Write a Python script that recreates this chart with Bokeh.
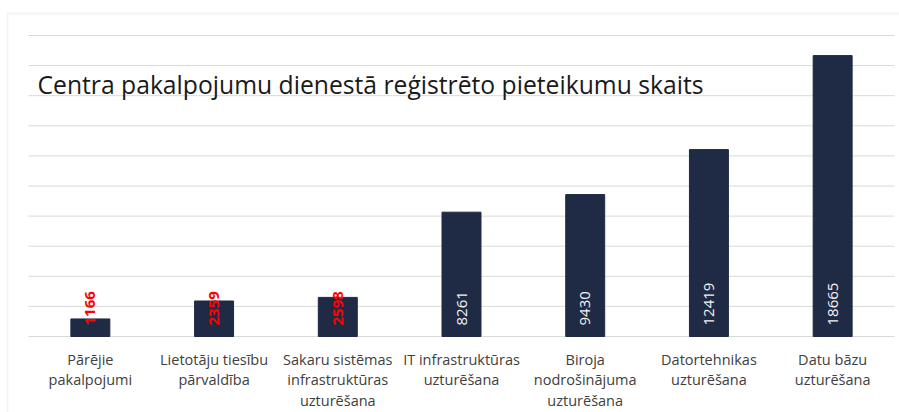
import math
from bokeh.plotting import figure
from bokeh.models import Range1d, Label, ColumnDataSource, BoxAnnotation
from bokeh.core.properties import value
from bokeh.embed import file_html
from bokeh.resources import INLINE

categories = [
    "Pārējie\npakalpojumi",
    "Lietotāju tiesību\npārvaldība",
    "Sakaru sistēmas\ninfrastruktūras\nuzturēšana",
    "IT infrastruktūras\nuzturēšana",
    "Biroja\nnodrošinājuma\nuzturēšana",
    "Datortehnikas\nuzturēšana",
    "Datu bāzu\nuzturēšana",
]
counts = [1166, 2359, 2598, 8261, 9430, 12419, 18665]
grid_ticks = list(range(0, 20001, 2000))
title_text = "Centra pakalpojumu dienestā reģistrēto pieteikumu skaits"

FONT = "Open Sans"
BAR_COLOR = "#1F2A44"
GRID = "#D9D9D9"

# layout (pixels)
W, H = 899, 412
PLOT_L, PLOT_R = 28, 894      # category area
PLOT_T, PLOT_B = 35, 336      # y = 20000 .. y = 0
n = len(categories)
ymax = grid_ticks[-1]
px_cat = (PLOT_R - PLOT_L) / n
px_val = (PLOT_B - PLOT_T) / ymax

x_range = Range1d(-PLOT_L / px_cat, n + (W - PLOT_R) / px_cat)
y_range = Range1d(-(H - PLOT_B) / px_val, ymax + PLOT_T / px_val)

p = figure(
    x_range=x_range, y_range=y_range,
    width=W, height=H,
    output_backend="svg", toolbar_location=None,
    min_border=0,
)
p.outline_line_color = None
p.axis.visible = False
p.grid.visible = False
p.background_fill_color = "white"
p.border_fill_color = "white"

xs = [i + 0.5 for i in range(n)]

# gridlines across the category area
p.segment(x0=[0] * len(grid_ticks), x1=[n] * len(grid_ticks),
          y0=grid_ticks, y1=grid_ticks, line_color=GRID, line_width=1)

p.vbar(x=xs, top=counts, width=0.315, color=BAR_COLOR)

# category labels
p.text(x=xs, y=[0] * n, text=categories, y_offset=13,
       text_align="center", text_baseline="top", text_color="#404040",
       text_font=value(FONT), text_font_size="14.5px", text_line_height=1.08)

# value labels (inside base, rotated)
big = [(x, v) for x, v in zip(xs, counts) if v >= 5000]
small = [(x, v) for x, v in zip(xs, counts) if v < 5000]
src_big = ColumnDataSource(dict(x=[a for a, _ in big], y=[0] * len(big), t=[str(v) for _, v in big]))
src_small = ColumnDataSource(dict(x=[a for a, _ in small], y=[0] * len(small), t=[str(v) for _, v in small]))
p.text(x="x", y="y", text="t", source=src_big, angle=math.pi / 2, y_offset=-11,
       text_align="left", text_baseline="middle", text_color="#F2F2F2",
       text_font=value(FONT), text_font_size="15px")
p.text(x="x", y="y", text="t", source=src_small, angle=math.pi / 2, y_offset=-11,
       text_align="left", text_baseline="middle", text_color="#FF0000",
       text_font=value(FONT), text_font_size="15px", text_font_style="bold")

# title drawn inside the plot area
p.add_layout(Label(x=0, y=ymax, x_offset=9, y_offset=-49, text=title_text,
                   text_font=FONT, text_font_size="24.7px", text_color="#1A1A1A",
                   text_baseline="alphabetic", text_align="left"))

# chart-area border
p.add_layout(BoxAnnotation(left=7, right=W + 20, top=13, bottom=H + 20,
                           left_units="canvas", right_units="canvas",
                           top_units="canvas", bottom_units="canvas",
                           fill_alpha=0, line_color="#D9D9D9", line_width=2))

open("out.html", "w").write(file_html(p, INLINE))
